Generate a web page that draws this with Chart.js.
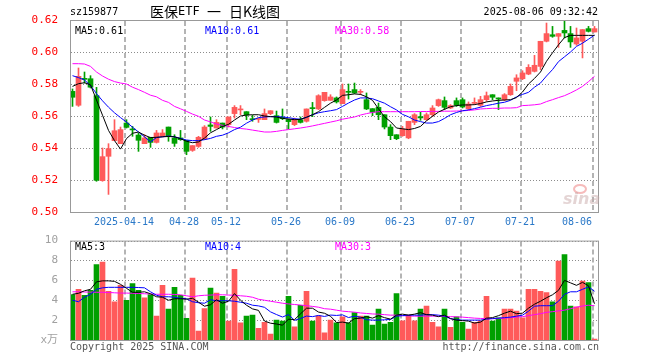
<!DOCTYPE html>
<html>
<head>
<meta charset="utf-8">
<title>医保ETF 日K线图</title>
<script src="https://cdn.jsdelivr.net/npm/chart.js@4.4.1/dist/chart.umd.min.js"></script>
<style>
    html, body { margin: 0; padding: 0; background: #fff; }
    #wrap { position: relative; width: 660px; height: 360px; }
    #kline { position: absolute; left: 0; top: 0; }
    #vol { position: absolute; left: 0; top: 230px; }
</style>
</head>
<body>
<div id="wrap">
    <canvas id="kline" width="660" height="230"></canvas>
    <canvas id="vol" width="660" height="130"></canvas>
</div>
<script>
// trading days shown on the chart (2025)
const dates = [
    '03-31','04-01','04-02','04-03','04-07','04-08','04-09','04-10','04-11',
    '04-14','04-15','04-16','04-17','04-18','04-21','04-22','04-23','04-24','04-25',
    '04-28','04-29','04-30','05-06','05-07','05-08','05-09',
    '05-12','05-13','05-14','05-15','05-16','05-19','05-20','05-21','05-22','05-23',
    '05-26','05-27','05-28','05-29','05-30','06-03','06-04','06-05','06-06',
    '06-09','06-10','06-11','06-12','06-13','06-16','06-17','06-18','06-19','06-20',
    '06-23','06-24','06-25','06-26','06-27','06-30','07-01','07-02','07-03','07-04',
    '07-07','07-08','07-09','07-10','07-11','07-14','07-15','07-16','07-17','07-18',
    '07-21','07-22','07-23','07-24','07-25','07-28','07-29','07-30','07-31','08-01',
    '08-04','08-05','08-06'
];

// tick labels on the time axis
const axisDates = ['04-14','04-28','05-12','05-26','06-09','06-23','07-07','07-21','08-06'];
const axisText  = ['2025-04-14','04-28','05-12','05-26','06-09','06-23','07-07','07-21','08-06'];
const priceTicks = [0.50, 0.52, 0.54, 0.56, 0.58, 0.60, 0.62];
const volTicks = [0, 2, 4, 6, 8, 10];

const opens = [
    .5754,.5667,.5831,.5833,.5727,.5196,.5348,.5446,.5427,.5556,
    .5517,.5481,.5427,.5467,.5435,.5473,.5531,.5463,.5463,.5448,
    .5385,.5410,.5456,.5544,.5525,.5556,.5546,.5615,.5638,.5627,
    .5581,.5579,.5577,.5615,.5602,.5592,.5577,.5546,.5577,.5567,
    .5650,.5644,.5696,.5698,.5713,.5677,.5754,.5765,.5748,.5702,
    .5646,.5654,.5608,.5531,.5483,.5477,.5463,.5560,.5596,.5577,
    .5608,.5665,.5696,.5650,.5696,.5702,.5646,.5679,.5667,.5702,
    .5733,.5713,.5702,.5733,.5817,.5833,.5862,.5879,.5910,.6067,
    .6108,.6098,.6135,.6115,.6050,.6067,.6146,.6125
];
const highs = [
    .5769,.5900,.5875,.5852,.5779,.5400,.5427,.5577,.5531,.5577,
    .5535,.5494,.5483,.5467,.5510,.5515,.5531,.5483,.5510,.5448,
    .5415,.5473,.5540,.5594,.5577,.5556,.5594,.5665,.5665,.5627,
    .5604,.5587,.5644,.5633,.5631,.5644,.5581,.5587,.5594,.5644,
    .5685,.5733,.5748,.5733,.5719,.5800,.5800,.5806,.5765,.5744,
    .5646,.5681,.5608,.5546,.5483,.5535,.5567,.5615,.5623,.5619,
    .5665,.5706,.5719,.5671,.5713,.5713,.5688,.5713,.5723,.5750,
    .5733,.5713,.5740,.5800,.5858,.5883,.5921,.5979,.6067,.6181,
    .6160,.6115,.6202,.6160,.6150,.6140,.6160,.6160
];
const lows = [
    .5660,.5660,.5806,.5775,.5192,.5192,.5110,.5446,.5427,.5525,
    .5473,.5379,.5427,.5404,.5431,.5470,.5442,.5410,.5448,.5358,
    .5379,.5404,.5452,.5504,.5525,.5519,.5531,.5587,.5608,.5577,
    .5567,.5560,.5577,.5608,.5556,.5577,.5519,.5540,.5556,.5562,
    .5596,.5640,.5692,.5698,.5681,.5677,.5706,.5740,.5733,.5640,
    .5602,.5577,.5519,.5452,.5452,.5473,.5458,.5546,.5573,.5573,
    .5596,.5660,.5640,.5646,.5660,.5650,.5640,.5671,.5660,.5692,
    .5702,.5640,.5696,.5729,.5758,.5827,.5858,.5875,.5890,.6063,
    .6092,.6029,.6088,.6029,.6042,.5963,.6125,.6125
];
const closes = [
    .5717,.5848,.5829,.5780,.5198,.5346,.5396,.5508,.5515,.5529,
    .5513,.5448,.5463,.5435,.5494,.5494,.5473,.5429,.5452,.5379,
    .5415,.5467,.5531,.5535,.5560,.5531,.5594,.5654,.5642,.5606,
    .5577,.5583,.5615,.5633,.5560,.5583,.5565,.5577,.5560,.5644,
    .5646,.5727,.5748,.5719,.5688,.5765,.5748,.5744,.5752,.5644,
    .5623,.5608,.5531,.5477,.5458,.5519,.5567,.5608,.5588,.5608,
    .5650,.5702,.5654,.5665,.5667,.5656,.5675,.5681,.5702,.5727,
    .5717,.5706,.5733,.5785,.5838,.5869,.5904,.5917,.6067,.6115,
    .6098,.6115,.6119,.6063,.6088,.6140,.6129,.6146
];

// price moving averages as drawn on the chart
const ma5 = [
    .5785,.5802,.5808,.5795,.5700,.5605,.5510,.5446,.5393,.5459,
    .5492,.5500,.5480,.5465,.5467,.5470,.5472,.5470,.5458,.5442,
    .5433,.5438,.5462,.5495,.5515,.5535,.5548,.5575,.5600,.5606,
    .5608,.5608,.5600,.5596,.5594,.5585,.5581,.5577,.5579,.5592,
    .5608,.5627,.5654,.5680,.5700,.5729,.5733,.5738,.5735,.5720,
    .5698,.5645,.5595,.5565,.5525,.5520,.5515,.5522,.5535,.5570,
    .5598,.5625,.5642,.5658,.5665,.5669,.5669,.5671,.5678,.5688,
    .5694,.5698,.5700,.5702,.5715,.5750,.5800,.5835,.5875,.5942,
    .5995,.6045,.6090,.6104,.6104,.6104,.6104,.6104
];
const ma10 = [
    .5852,.5840,.5825,.5790,.5740,.5695,.5655,.5620,.5590,.5562,
    .5530,.5500,.5470,.5438,.5465,.5470,.5475,.5470,.5460,.5450,
    .5446,.5446,.5452,.5460,.5473,.5480,.5495,.5515,.5530,.5555,
    .5575,.5590,.5594,.5596,.5596,.5594,.5590,.5583,.5580,.5592,
    .5608,.5620,.5627,.5633,.5640,.5660,.5681,.5700,.5713,.5713,
    .5708,.5694,.5680,.5658,.5638,.5610,.5595,.5575,.5565,.5556,
    .5556,.5565,.5585,.5608,.5622,.5633,.5638,.5646,.5655,.5665,
    .5672,.5680,.5686,.5698,.5720,.5735,.5748,.5780,.5806,.5850,
    .5890,.5940,.5970,.6000,.6035,.6055,.6080,.6105
];
const ma30 = [
    .5927,.5927,.5925,.5910,.5875,.5850,.5830,.5815,.5806,.5800,
    .5780,.5765,.5748,.5730,.5720,.5698,.5685,.5660,.5645,.5629,
    .5612,.5598,.5575,.5563,.5550,.5542,.5535,.5528,.5522,.5518,
    .5512,.5506,.5500,.5500,.5504,.5510,.5515,.5520,.5525,.5531,
    .5538,.5546,.5554,.5562,.5570,.5580,.5587,.5594,.5606,.5615,
    .5622,.5627,.5627,.5627,.5627,.5627,.5627,.5627,.5628,.5628,
    .5629,.5629,.5630,.5630,.5631,.5632,.5635,.5638,.5644,.5646,
    .5648,.5648,.5650,.5650,.5652,.5665,.5667,.5670,.5675,.5690,
    .5702,.5715,.5727,.5744,.5763,.5785,.5815,.5848
];

// volume, in units of 万
const volumes = [
    4.57,5.1,4.5,5.0,7.6,7.83,4.9,3.83,5.5,4.0,
    5.67,5.0,4.23,4.57,2.4,5.5,3.1,5.3,4.5,2.17,
    6.23,0.9,3.17,5.23,4.73,4.4,1.9,7.1,1.73,2.4,
    2.5,1.17,1.77,0.6,2.0,1.9,4.4,1.33,3.5,4.9,
    1.9,2.43,0.73,2.0,1.73,2.33,1.73,2.77,2.4,2.4,
    1.5,3.1,1.6,1.77,4.67,1.93,2.5,1.93,3.1,3.4,
    1.77,1.33,3.1,1.27,2.33,1.77,1.1,1.77,1.93,4.4,
    1.9,2.23,3.1,3.1,2.9,2.23,5.1,5.1,4.9,4.77,
    3.83,7.93,8.6,3.4,3.33,5.93,5.77,0.1
];
const volMa5 = [
    4.6,4.7,4.95,5.1,5.85,5.95,5.95,5.9,5.6,5.2,
    4.8,4.8,4.85,4.65,4.35,4.3,4.0,4.15,4.15,4.1,
    4.2,3.8,3.4,3.55,4.05,3.7,3.9,4.67,4.0,3.5,
    3.13,2.98,1.91,1.69,1.61,1.49,2.1,2.05,2.63,3.2,
    3.2,2.81,2.69,2.39,1.76,1.8,1.7,2.15,2.2,2.35,
    2.2,2.45,2.25,2.1,2.5,2.6,2.5,2.6,2.75,2.55,
    2.5,2.35,2.5,2.15,2.0,1.95,1.9,1.7,1.8,2.2,
    2.25,2.45,2.7,2.9,2.65,2.7,3.2,3.6,3.9,4.25,
    4.55,5.0,6.0,5.75,5.5,5.8,5.45,3.65
];
const volMa10 = [
    4.0,3.85,4.3,4.6,5.1,5.25,5.3,5.3,5.3,5.3,
    5.3,5.28,5.25,4.85,4.5,4.35,4.35,4.3,4.2,4.15,
    3.85,3.75,3.7,4.05,3.95,3.95,3.95,3.9,3.8,3.7,
    3.5,3.43,3.29,2.83,2.56,2.31,2.56,1.98,2.16,2.41,
    2.35,2.47,2.37,2.51,2.47,2.53,2.26,2.4,2.29,2.04,
    2.0,2.0,2.03,2.07,2.4,2.45,2.5,2.5,2.5,2.55,
    2.55,2.5,2.4,2.15,2.05,2.0,2.0,2.0,2.0,2.1,
    2.15,2.2,2.25,2.3,2.4,2.5,2.9,3.4,3.45,3.45,
    3.45,3.9,4.6,4.85,4.85,5.1,5.35,4.9
];
const volMa30 = [
    4.85,4.85,4.83,4.82,4.8,4.8,4.78,4.75,4.72,4.72,
    4.7,4.68,4.65,4.63,4.6,4.6,4.6,4.58,4.55,4.45,
    4.35,4.45,4.5,4.52,4.55,4.55,4.52,4.5,4.45,4.4,
    4.3,4.1,4.0,3.9,3.8,3.7,3.63,3.57,3.52,3.45,
    3.38,3.3,3.15,3.1,3.0,2.9,2.85,2.8,2.72,2.67,
    2.62,2.6,2.55,2.5,2.5,2.45,2.42,2.4,2.4,2.4,
    2.4,2.4,2.38,2.35,2.33,2.3,2.25,2.2,2.17,2.15,
    2.15,2.15,2.2,2.25,2.3,2.35,2.45,2.55,2.65,2.78,
    2.85,2.93,3.0,3.15,3.3,3.42,3.5,3.45
];

const MONO = '"DejaVu Sans Mono", "Noto Sans CJK SC", monospace';
const CJK = '"Noto Sans CJK SC", sans-serif';
const UP = '#ff5a5a';
const DOWN = '#00a000';
const FRAME = '#999';
const X_SHIFT = 5 / 12;   // vertical grid lines sit on the left edge of the candle

const gridIdx = axisDates.map(d => dates.indexOf(d));
const candleColors = closes.map((c, i) => c >= opens[i] ? UP : DOWN);
const pts = arr => arr.map((v, i) => ({ x: i, y: v }));

function timeAxis() {
    return {
        type: 'linear',
        min: -X_SHIFT,
        max: dates.length - X_SHIFT,
        bounds: 'data',
        offset: false,
        ticks: { display: false },
        grid: { display: false, offset: false },
        border: { display: false },
        afterFit: s => { s.height = 0; }
    };
}

function maLine(values, color) {
    return {
        type: 'line',
        data: pts(values),
        borderColor: color,
        borderWidth: 1,
        pointRadius: 0,
        fill: false,
        tension: 0,
        order: 0
    };
}

function drawText(ctx, str, x, y, color, font, align) {
    ctx.font = font;
    ctx.fillStyle = color;
    ctx.textAlign = align || 'left';
    ctx.textBaseline = 'middle';
    ctx.fillText(str, x, y);
}

// dotted value grid + dashed date grid, placed through the chart scales.
// every dot / dash is a small rect added to one path, then filled
function drawGrid(chart, valueTicks) {
    const { ctx, chartArea: a, scales: { x, y } } = chart;
    ctx.save();
    ctx.beginPath();
    for (const v of valueTicks) {
        const py = Math.round(y.getPixelForValue(v));
        for (let px = a.left + 1; px < a.right; px += 3) ctx.rect(px, py, 1, 1);
    }
    ctx.fillStyle = '#8c8c8c';
    ctx.fill();

    ctx.beginPath();
    for (const i of gridIdx) {
        const px = Math.round(x.getPixelForValue(i - X_SHIFT));
        for (let py = a.top + 1; py < a.bottom; py += 8) {
            ctx.rect(px, py, 2, Math.min(5, a.bottom - py));
        }
    }
    ctx.fillStyle = '#b4b4b4';
    ctx.fill();
    ctx.restore();
}

function drawFrame(chart) {
    const { ctx, chartArea: a } = chart;
    ctx.save();
    ctx.strokeStyle = FRAME;
    ctx.lineWidth = 1;
    ctx.strokeRect(a.left + 0.5, a.top + 0.5, a.right - a.left, a.bottom - a.top);
    ctx.restore();
}

// grid, header, legends, date labels and watermark of the price panel
const klineDecor = {
    id: 'klineDecor',
    beforeDatasetsDraw(chart) {
        drawGrid(chart, priceTicks);
    },
    afterDraw(chart) {
        const { ctx, chartArea: a } = chart;
        const x = chart.scales.x;
        drawFrame(chart);
        ctx.save();
        drawText(ctx, 'sz159877', 70, 12, '#000', '10px ' + MONO);
        drawText(ctx, '医保', 150, 12, '#000', '14px ' + CJK);
        drawText(ctx, 'ETF', 178, 12, '#000', '12px ' + MONO);
        drawText(ctx, '一', 207, 12, '#000', '14px ' + CJK);
        drawText(ctx, '日K线图', 229, 12, '#000', '14px ' + CJK);
        drawText(ctx, '2025-08-06 09:32:42', 598, 12, '#000', '10px ' + MONO, 'right');

        drawText(ctx, 'MA5:0.61', 75, 31, '#000', '10px ' + MONO);
        drawText(ctx, 'MA10:0.61', 205, 31, '#0000ff', '10px ' + MONO);
        drawText(ctx, 'MA30:0.58', 335, 31, '#ff00ff', '10px ' + MONO);

        // sina watermark
        ctx.globalAlpha = 0.5;
        ctx.strokeStyle = '#e77';
        ctx.lineWidth = 2;
        ctx.beginPath();
        ctx.ellipse(580, 189, 6, 4, 0, 0, Math.PI * 2);
        ctx.stroke();
        drawText(ctx, 'sina', 563, 200, '#c9a9a9', 'italic bold 16px "DejaVu Sans"');
        ctx.globalAlpha = 1;

        ctx.font = '10px ' + MONO;
        axisText.forEach((t, k) => {
            const w = ctx.measureText(t).width;
            let cx = x.getPixelForValue(gridIdx[k] - X_SHIFT);
            cx = Math.min(cx, a.right - 6 - w / 2);
            drawText(ctx, t, cx, 222, '#2a78c8', '10px ' + MONO, 'center');
        });
        ctx.restore();
    }
};

const volDecor = {
    id: 'volDecor',
    beforeDatasetsDraw(chart) {
        drawGrid(chart, volTicks);
    },
    afterDraw(chart) {
        const ctx = chart.ctx;
        drawFrame(chart);
        ctx.save();
        drawText(ctx, 'MA5:3', 75, 17, '#000', '10px ' + MONO);
        drawText(ctx, 'MA10:4', 205, 17, '#0000ff', '10px ' + MONO);
        drawText(ctx, 'MA30:3', 335, 17, '#ff00ff', '10px ' + MONO);
        drawText(ctx, 'Copyright 2025 SINA.COM', 70, 117, '#555', '10px ' + MONO);
        drawText(ctx, 'http://finance.sina.com.cn', 599, 117, '#555', '10px ' + MONO, 'right');
        ctx.restore();
    }
};

// Price panel
new Chart(document.getElementById('kline'), {
    type: 'bar',
    data: {
        datasets: [
            maLine(ma5, '#000000'),
            maLine(ma10, '#0000ff'),
            maLine(ma30, '#ff00ff'),
            {
                data: opens.map((o, i) => ({ x: i, y: [o, closes[i]] })),
                backgroundColor: candleColors,
                borderWidth: 0,
                barThickness: 5,
                minBarLength: 1,
                grouped: false,
                order: 1
            },
            {
                data: lows.map((l, i) => ({ x: i, y: [l, highs[i]] })),
                backgroundColor: candleColors,
                borderWidth: 0,
                barThickness: 1,
                grouped: false,
                order: 2
            }
        ]
    },
    options: {
        responsive: false,
        animation: false,
        events: [],
        layout: { padding: { left: 0, right: 62, top: 20, bottom: 18 } },
        plugins: { legend: { display: false }, tooltip: { enabled: false } },
        scales: {
            x: timeAxis(),
            y: {
                min: 0.50,
                max: 0.62,
                afterBuildTicks: s => { s.ticks = priceTicks.map(v => ({ value: v })); },
                ticks: {
                    color: '#ff0000',
                    font: { family: MONO, size: 11 },
                    padding: 4,
                    callback: v => v.toFixed(2)
                },
                grid: { display: false },
                border: { display: false },
                afterFit: s => { s.width = 70; }
            }
        }
    },
    plugins: [klineDecor]
});

// Volume panel
new Chart(document.getElementById('vol'), {
    type: 'bar',
    data: {
        datasets: [
            maLine(volMa5, '#000000'),
            maLine(volMa10, '#0000ff'),
            maLine(volMa30, '#ff00ff'),
            {
                data: pts(volumes),
                backgroundColor: candleColors,
                borderWidth: 0,
                barThickness: 5,
                grouped: false,
                order: 1
            }
        ]
    },
    options: {
        responsive: false,
        animation: false,
        events: [],
        layout: { padding: { left: 0, right: 62, top: 10, bottom: 20 } },
        plugins: { legend: { display: false }, tooltip: { enabled: false } },
        scales: {
            x: timeAxis(),
            y: {
                min: 0,
                max: 10,
                afterBuildTicks: s => { s.ticks = volTicks.map(v => ({ value: v })); },
                ticks: {
                    color: '#a0a0a0',
                    font: { family: MONO, size: 11 },
                    padding: 4,
                    callback: v => v === 0 ? 'x万' : String(v)
                },
                grid: { display: false },
                border: { display: false },
                afterFit: s => { s.width = 70; }
            }
        }
    },
    plugins: [volDecor]
});
</script>
</body>
</html>
